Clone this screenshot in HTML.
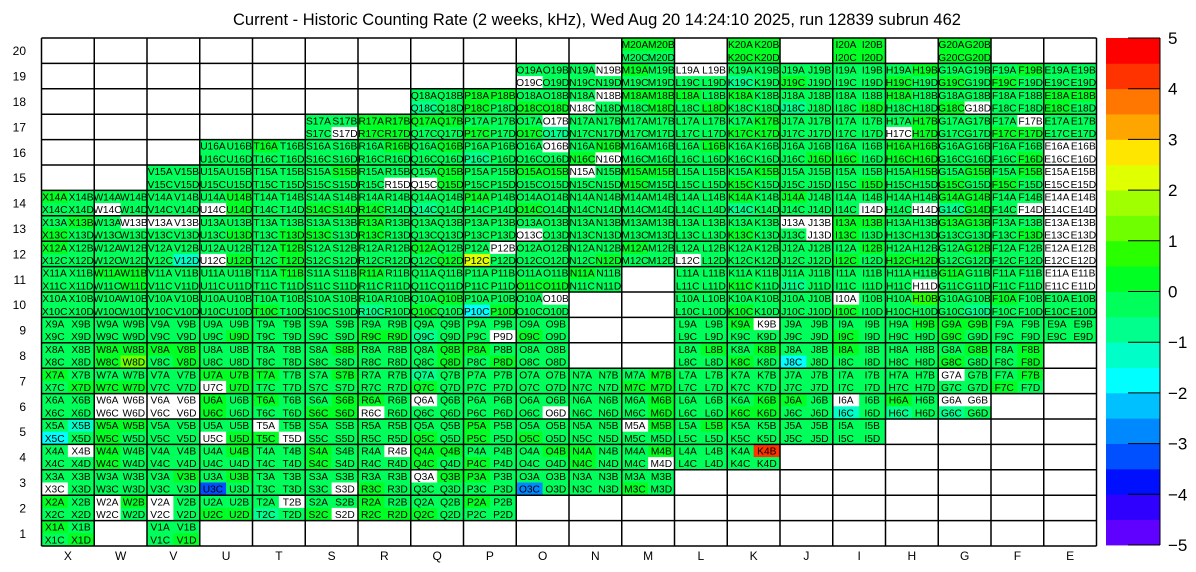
<!DOCTYPE html>
<html><head><meta charset="utf-8"><style>
html,body{margin:0;padding:0;background:#fff;}
svg{display:block;font-family:"Liberation Sans",Arial,sans-serif;}
</style></head><body>
<svg id="chart" width="1196" height="572" viewBox="0 0 1196 572" xmlns="http://www.w3.org/2000/svg">
<text x="597" y="25" font-size="16.5" text-anchor="middle">Current - Historic Counting Rate (2 weeks, kHz), Wed Aug 20 14:24:10 2025, run 12839 subrun 462</text>
<g id="cells"></g><g id="grid"></g><g id="axes"></g><g id="cbar"></g>
</svg>
<script>
const columns = ["X","W","V","U","T","S","R","Q","P","O","N","M","L","K","J","I","H","G","F","E"];
const rowsNum = [1,2,3,4,5,6,7,8,9,10,11,12,13,14,15,16,17,18,19,20];
const codeValues = {a:0.25,b:0.75,m:-0.25,n:-0.75,c:-1.25,y:-1.75,o:-2.75,u:-3.25,p:1.25,q:2.25,r:4.25,w:null};
const colorTicks = [5,4,3,2,1,0,-1,-2,-3,-4,-5];
// per row: [top (A B per column), bottom (C D per column)], columns X..E
const rowCodes = {
20:[".. .. .. .. .. .. .. .. .. .. .. aa .. aa .. aa .. aa .. ..",".. .. .. .. .. .. .. .. .. .. .. mm .. aa .. aa .. aa .. .."],
19:[".. .. .. .. .. .. .. .. .. mm mw am ww mm mm mm ma mm ma mm",".. .. .. .. .. .. .. .. .. wm mm mm mm nm am mm am am am mm"],
18:[".. .. .. .. .. .. .. mm aa mm mw aa am am mm mm am mm mm aa",".. .. .. .. .. .. .. nm am aa wm ma ma mm nm ma mm aw mm am"],
17:[".. .. .. .. .. mm aa aa mm mw mm mm mm ma mm mm ma mm mw mm",".. .. .. .. .. mw aa mm am an mm mm mm aa mm mm wa mm aa mm"],
16:[".. .. .. mm am mm ma ma mm mw ma mm ma mm mm mm aa mm mm ww",".. .. .. mm mm mm mm mm nm mm aw mm mm mm ma am aa mm ma ww"],
15:[".. .. mm mm mm ma mm ma mm aa wm aa mm ma mm mm ma ma ma ww",".. .. mm mm mm mm mw wa mm mm mm am mm am mm ma mm am am ww"],
14:["am mm mm ma mm mm mm mm am mm mm mm mm am am mm mm aa mm ww","mm wm mm wa mm aa am nm mm am mm mm mm nm mm mw mw na mw ww"],
13:["ma mw ww mm mm mm am mm mm mm mm mm mm mm ww aa mm aa mm ww","am mm mm ma ma am am mm mm wm mm mm mm am mw am mm mm ma ww"],
12:["am mm mm mm ma mm mm am mw mm mm am mm mm mm ma mm ma mm ww","mm mm mc wa ma mm mm ma qm mm ma mm wm mm mm am aa mm mm ww"],
11:["mm aa mm mm ma mm am mm mm mm am .. mm mm mm mm mm am mm ww","mm ma mm mm mm mm mm mm mm aa mm .. mm am nm mm mw mm mm ww"],
10:["mm mm mm mm mm mm mm ma mm mw .. .. mm mm mm wm mb mm am mm","mm mm mm mm am mm nm am ya mm .. .. mm am mm am mm mn mm mm"],
9:["mm mm mm mm mm mm mm mm mm mm .. .. mm aw mm mm ma aa mm mm","mm mm mm ma mm mm aa nm mw am .. .. mm mm mm am mm am mm mm"],
8:["mm aa aa mm mm ma mm ma am mm .. .. ma ma mm am mm ma ma ..","mm ap ma mm mm mm mm ma ma mm .. .. mm am ym mm mm am ma .."],
7:["am mm mm aa am ma mm nm mm mm mm ma mm mm mm mm mm wm ma ..","ma aa mm wa mm mm mm am mm mm mm aa mm mm mm mm mm mm am .."],
6:["mm ww ww am am ma am wm mm mm mm ma mm ma am wm am ww .. ..","mm ww ww am mm aa wm mm mm mw mm ma mm aa mm cm nm nm .. .."],
5:["mc aa mm mm wm mm mm mm am mm mm wa ma mm mm mm .. .. .. ..","ym am mm wa aw mm mm am am am mm mm mm mm mm mm .. .. .. .."],
4:["mw am mm ma mm am mw aa mm ma am ma mm mr .. .. .. .. .. ..","mm am mm mm mm am mm am am mm am mw mm mm .. .. .. .. .. .."],
3:["mm mm ma ma mm mm mm wa am mm mm mm .. .. .. .. .. .. .. ..","wm mm mm um mm mw am mm mm om mm am .. .. .. .. .. .. .. .."],
2:["am wa wm mm mw mm am mm am .. .. .. .. .. .. .. .. .. .. ..","mm wm wm aa nm aw aa am mm .. .. .. .. .. .. .. .. .. .. .."],
1:["am .. mm .. .. .. .. .. .. .. .. .. .. .. .. .. .. .. .. ..","ma .. ma .. .. .. .. .. .. .. .. .. .. .. .. .. .. .. .. .."]
};
const binColors = ["#6000ff","#3000ff","#0010ff","#0050ff","#0088ff","#00c0ff","#00ffff","#00ffc8","#00ff8c","#00ff5a","#00ff22","#2aff00","#70ff00","#a0ff00","#e0ff00","#ffe600","#ffa500","#ff7700","#ff3300","#ff0000"];
const X0=41.5, PW=1055, Y0=38, PH=508;
const colW=PW/columns.length, rowH=PH/rowsNum.length;
function xCol(i){return X0+i*colW;}
function yRow(r){return Y0+(rowsNum.length-r)*rowH;}
function color(v){ if(v===null) return "#ffffff"; let b=Math.floor((v+5)/0.5); b=Math.max(0,Math.min(19,b)); return binColors[b]; }
const NS="http://www.w3.org/2000/svg";
function mk(tag,attrs,parent){const e=document.createElementNS(NS,tag);for(const k in attrs)e.setAttribute(k,attrs[k]);parent.appendChild(e);return e;}
const cells=document.getElementById("cells"), grid=document.getElementById("grid"), axes=document.getElementById("axes"), cbar=document.getElementById("cbar");
const subNames=[["A","B"],["C","D"]];
for(const r of rowsNum){
  const rc=rowCodes[r].map(s=>s.replace(/ /g,""));
  for(let ci=0;ci<columns.length;ci++){
    for(let half=0;half<2;half++){
      for(let k=0;k<2;k++){
        const ch=rc[half][ci*2+k];
        if(ch==="."||ch===undefined) continue;
        const v=codeValues[ch];
        const x=xCol(ci)+k*colW/2, y=yRow(r)+half*rowH/2;
        const rect=mk("rect",{x:x,y:y,width:colW/2+0.3,height:rowH/2+0.3,fill:color(v)},cells);
        
        
        const t=mk("text",{x:x+colW/4,y:y+rowH/2-2.6,"font-size":"10.2","text-anchor":"middle",fill:"#000"},cells);
        
        
        t.textContent=columns[ci]+r+subNames[half][k];
      }
    }
  }
}
for(let i=0;i<=columns.length;i++){
  const l=mk("line",{x1:xCol(i),x2:xCol(i),y1:Y0,y2:Y0+PH,stroke:"#000","stroke-width":1.5},grid);
  
  
}
for(let j=0;j<=rowsNum.length;j++){
  const y=Y0+j*rowH;
  const l=mk("line",{x1:X0,x2:X0+PW,y1:y,y2:y,stroke:"#000","stroke-width":1.5},grid);
  
  
}
columns.forEach((c,i)=>{
  const t=mk("text",{x:xCol(i)+colW/2,y:560,"font-size":"12","text-anchor":"middle"},axes);
  
  
  t.textContent=c;
});
rowsNum.forEach(r=>{
  const t=mk("text",{x:26,y:yRow(r)+rowH/2+4.5,"font-size":"12","text-anchor":"end"},axes);
  
  
  t.textContent=r;
});
const CBX=1106, CBW=54, CBY=38, CBH=507;
binColors.forEach((c,i)=>{
  const h=CBH/binColors.length;
  const rect=mk("rect",{x:CBX,y:CBY+CBH-(i+1)*h,width:CBW,height:h+0.4,fill:c},cbar);
  
  
});
colorTicks.forEach(v=>{
  const y=CBY+CBH*(5-v)/10;
  const l=mk("line",{x1:CBX+CBW-32,x2:CBX+CBW,y1:y,y2:y,stroke:"#000","stroke-width":1},cbar);
  
  
  const t=mk("text",{x:1168,y:y+6,"font-size":"17"},cbar);
  
  
  t.textContent=v<0?"\u2212"+Math.abs(v):String(v);
});
const ax=mk("line",{x1:CBX+CBW,x2:CBX+CBW,y1:CBY,y2:CBY+CBH,stroke:"#000","stroke-width":1},cbar);


</script>
</body></html>
